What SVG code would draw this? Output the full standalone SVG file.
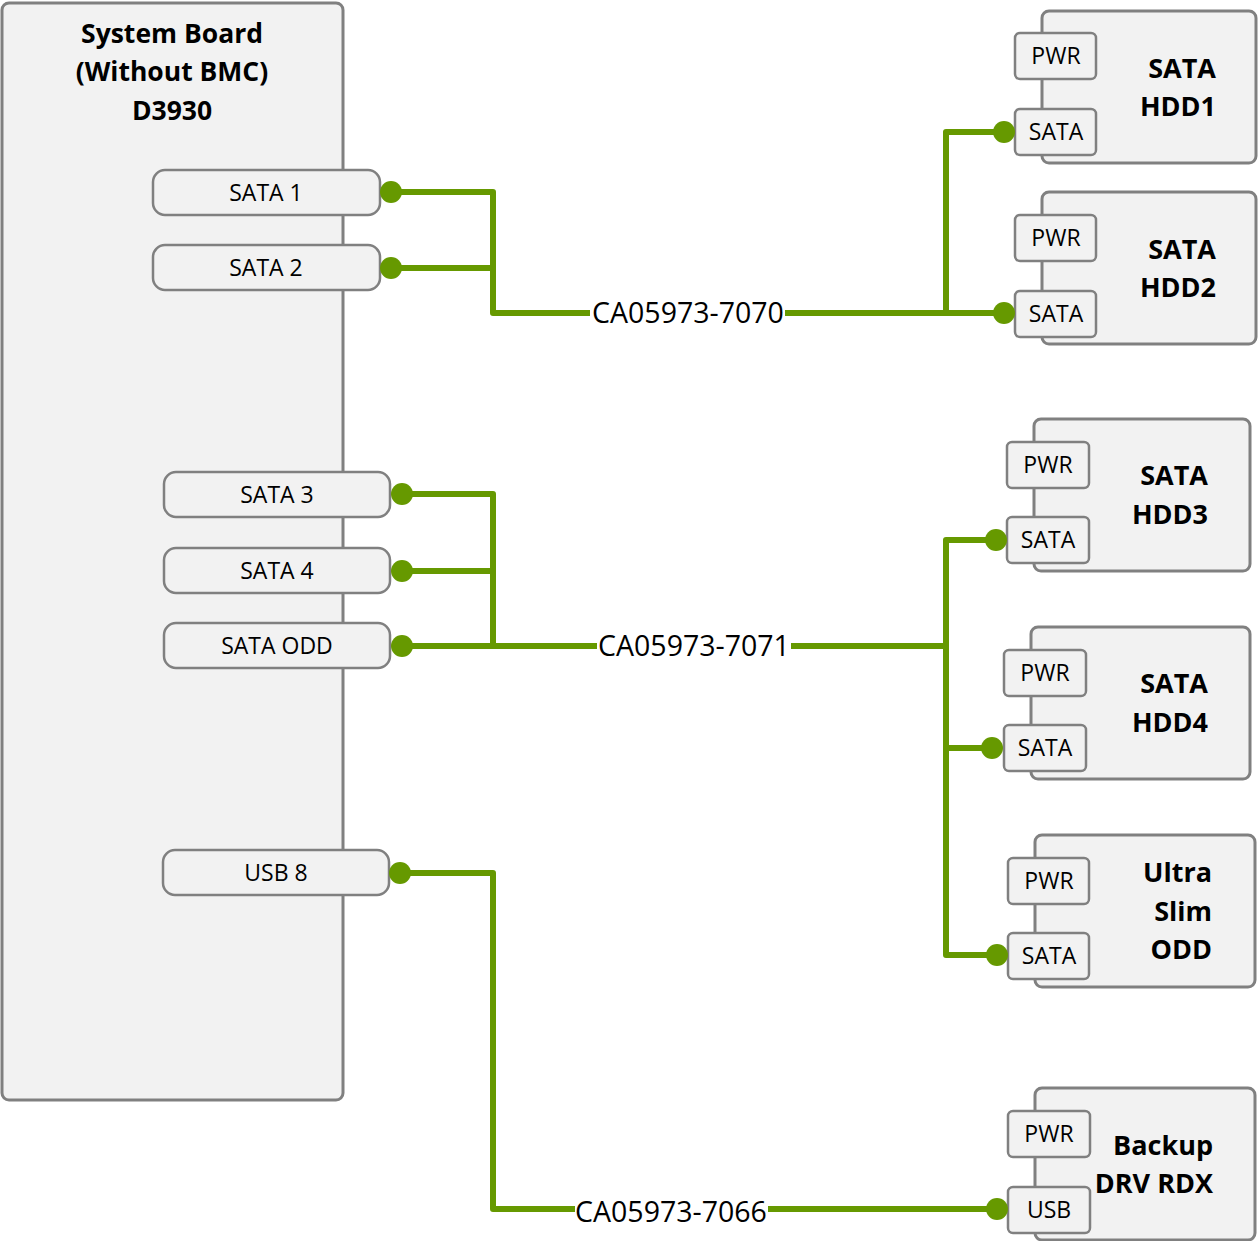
<svg xmlns="http://www.w3.org/2000/svg" width="1258" height="1241" viewBox="0 0 1258 1241">
<style>
.box{fill:#f2f2f2;stroke:#808080;stroke-width:3}
.port{fill:#f2f2f2;stroke:#808080;stroke-width:2.5}
.pt{font-family:"Open Sans","Noto Sans",sans-serif;font-size:23px;fill:#000;text-anchor:middle}
.ttl{font-family:"Open Sans","Noto Sans",sans-serif;font-size:26.5px;font-weight:bold;fill:#000;text-anchor:middle}
.dt{font-family:"Open Sans","Noto Sans",sans-serif;font-size:27px;font-weight:bold;fill:#000;text-anchor:end}
.lbl{font-family:"Open Sans","Noto Sans",sans-serif;font-size:28.5px;fill:#000;text-anchor:middle}
.wire{fill:none;stroke:#669900;stroke-width:6;stroke-linejoin:round}
.dot{fill:#669900}
</style>
<rect width="1258" height="1241" fill="#fff"/>

<g id="board">
<rect class="box" x="2" y="3" width="341" height="1097" rx="7"/>
<text class="ttl" x="172" y="43">System Board</text>
<text class="ttl" x="172" y="81">(Without BMC)</text>
<text class="ttl" x="172" y="120">D3930</text>
</g>

<g id="port-sata1"><rect class="port" x="153" y="170" width="227" height="45" rx="12"/><text class="pt" x="266" y="201">SATA 1</text></g>
<g id="port-sata2"><rect class="port" x="153" y="245" width="227" height="45" rx="12"/><text class="pt" x="266" y="276">SATA 2</text></g>
<g id="port-sata3"><rect class="port" x="164" y="472" width="226" height="45" rx="12"/><text class="pt" x="277" y="503">SATA 3</text></g>
<g id="port-sata4"><rect class="port" x="164" y="548" width="226" height="45" rx="12"/><text class="pt" x="277" y="579">SATA 4</text></g>
<g id="port-sataodd"><rect class="port" x="164" y="623" width="226" height="45" rx="12"/><text class="pt" x="277" y="654">SATA ODD</text></g>
<g id="port-usb8"><rect class="port" x="163" y="850" width="226" height="45" rx="12"/><text class="pt" x="276" y="881">USB 8</text></g>

<g id="hdd1">
<rect class="box" x="1042" y="11" width="214" height="152" rx="7"/>
<rect class="port" x="1015" y="33" width="81" height="46" rx="5"/><text class="pt" x="1056" y="64">PWR</text>
<rect class="port" x="1015" y="109" width="81" height="46" rx="5"/><text class="pt" x="1056" y="140">SATA</text>
<text class="dt" x="1216" y="78">SATA</text><text class="dt" x="1216" y="116">HDD1</text>
</g>
<g id="hdd2">
<rect class="box" x="1042" y="192" width="214" height="152" rx="7"/>
<rect class="port" x="1015" y="215" width="81" height="46" rx="5"/><text class="pt" x="1056" y="246">PWR</text>
<rect class="port" x="1015" y="291" width="81" height="46" rx="5"/><text class="pt" x="1056" y="322">SATA</text>
<text class="dt" x="1216" y="259">SATA</text><text class="dt" x="1216" y="297">HDD2</text>
</g>
<g id="hdd3">
<rect class="box" x="1034" y="419" width="216" height="152" rx="7"/>
<rect class="port" x="1007" y="442" width="82" height="46" rx="5"/><text class="pt" x="1048" y="473">PWR</text>
<rect class="port" x="1007" y="517" width="82" height="46" rx="5"/><text class="pt" x="1048" y="548">SATA</text>
<text class="dt" x="1208" y="485">SATA</text><text class="dt" x="1208" y="524">HDD3</text>
</g>
<g id="hdd4">
<rect class="box" x="1031" y="627" width="219" height="152" rx="7"/>
<rect class="port" x="1004" y="650" width="82" height="46" rx="5"/><text class="pt" x="1045" y="681">PWR</text>
<rect class="port" x="1004" y="725" width="82" height="46" rx="5"/><text class="pt" x="1045" y="756">SATA</text>
<text class="dt" x="1208" y="693">SATA</text><text class="dt" x="1208" y="732">HDD4</text>
</g>
<g id="odd">
<rect class="box" x="1035" y="835" width="220" height="152" rx="7"/>
<rect class="port" x="1008" y="858" width="81" height="46" rx="5"/><text class="pt" x="1049" y="889">PWR</text>
<rect class="port" x="1008" y="933" width="81" height="46" rx="5"/><text class="pt" x="1049" y="964">SATA</text>
<text class="dt" x="1212" y="882">Ultra</text><text class="dt" x="1212" y="921">Slim</text><text class="dt" x="1212" y="959">ODD</text>
</g>
<g id="rdx">
<rect class="box" x="1035" y="1088" width="220" height="152" rx="7"/>
<rect class="port" x="1008" y="1111" width="82" height="46" rx="5"/><text class="pt" x="1049" y="1142">PWR</text>
<rect class="port" x="1008" y="1187" width="82" height="46" rx="5"/><text class="pt" x="1049" y="1218">USB</text>
<text class="dt" x="1213" y="1155">Backup</text><text class="dt" x="1213" y="1193">DRV RDX</text>
</g>

<g id="connectors">
<path class="wire" d="M391,192 H493 V313 H590 M391,268 H493 M785,313 H1004 M946,313 V132 H1004"/>
<path class="wire" d="M402,494 H493 V646 M402,571 H493 M402,646 H597 M791,646 H946 M996,540 H946 V955 H997 M946,748 H992"/>
<path class="wire" d="M400,873 H493 V1209 H575 M768,1209 H997"/>
<circle class="dot" cx="391" cy="192" r="11"/>
<circle class="dot" cx="391" cy="268" r="11"/>
<circle class="dot" cx="402" cy="494" r="11"/>
<circle class="dot" cx="402" cy="571" r="11"/>
<circle class="dot" cx="402" cy="646" r="11"/>
<circle class="dot" cx="400" cy="873" r="11"/>
<circle class="dot" cx="1004" cy="132" r="11"/>
<circle class="dot" cx="1004" cy="313" r="11"/>
<circle class="dot" cx="996" cy="540" r="11"/>
<circle class="dot" cx="992" cy="748" r="11"/>
<circle class="dot" cx="997" cy="955" r="11"/>
<circle class="dot" cx="997" cy="1209" r="11"/>
<text class="lbl" x="688" y="323">CA05973-7070</text>
<text class="lbl" x="694" y="656">CA05973-7071</text>
<text class="lbl" x="671" y="1222">CA05973-7066</text>
</g>
</svg>
